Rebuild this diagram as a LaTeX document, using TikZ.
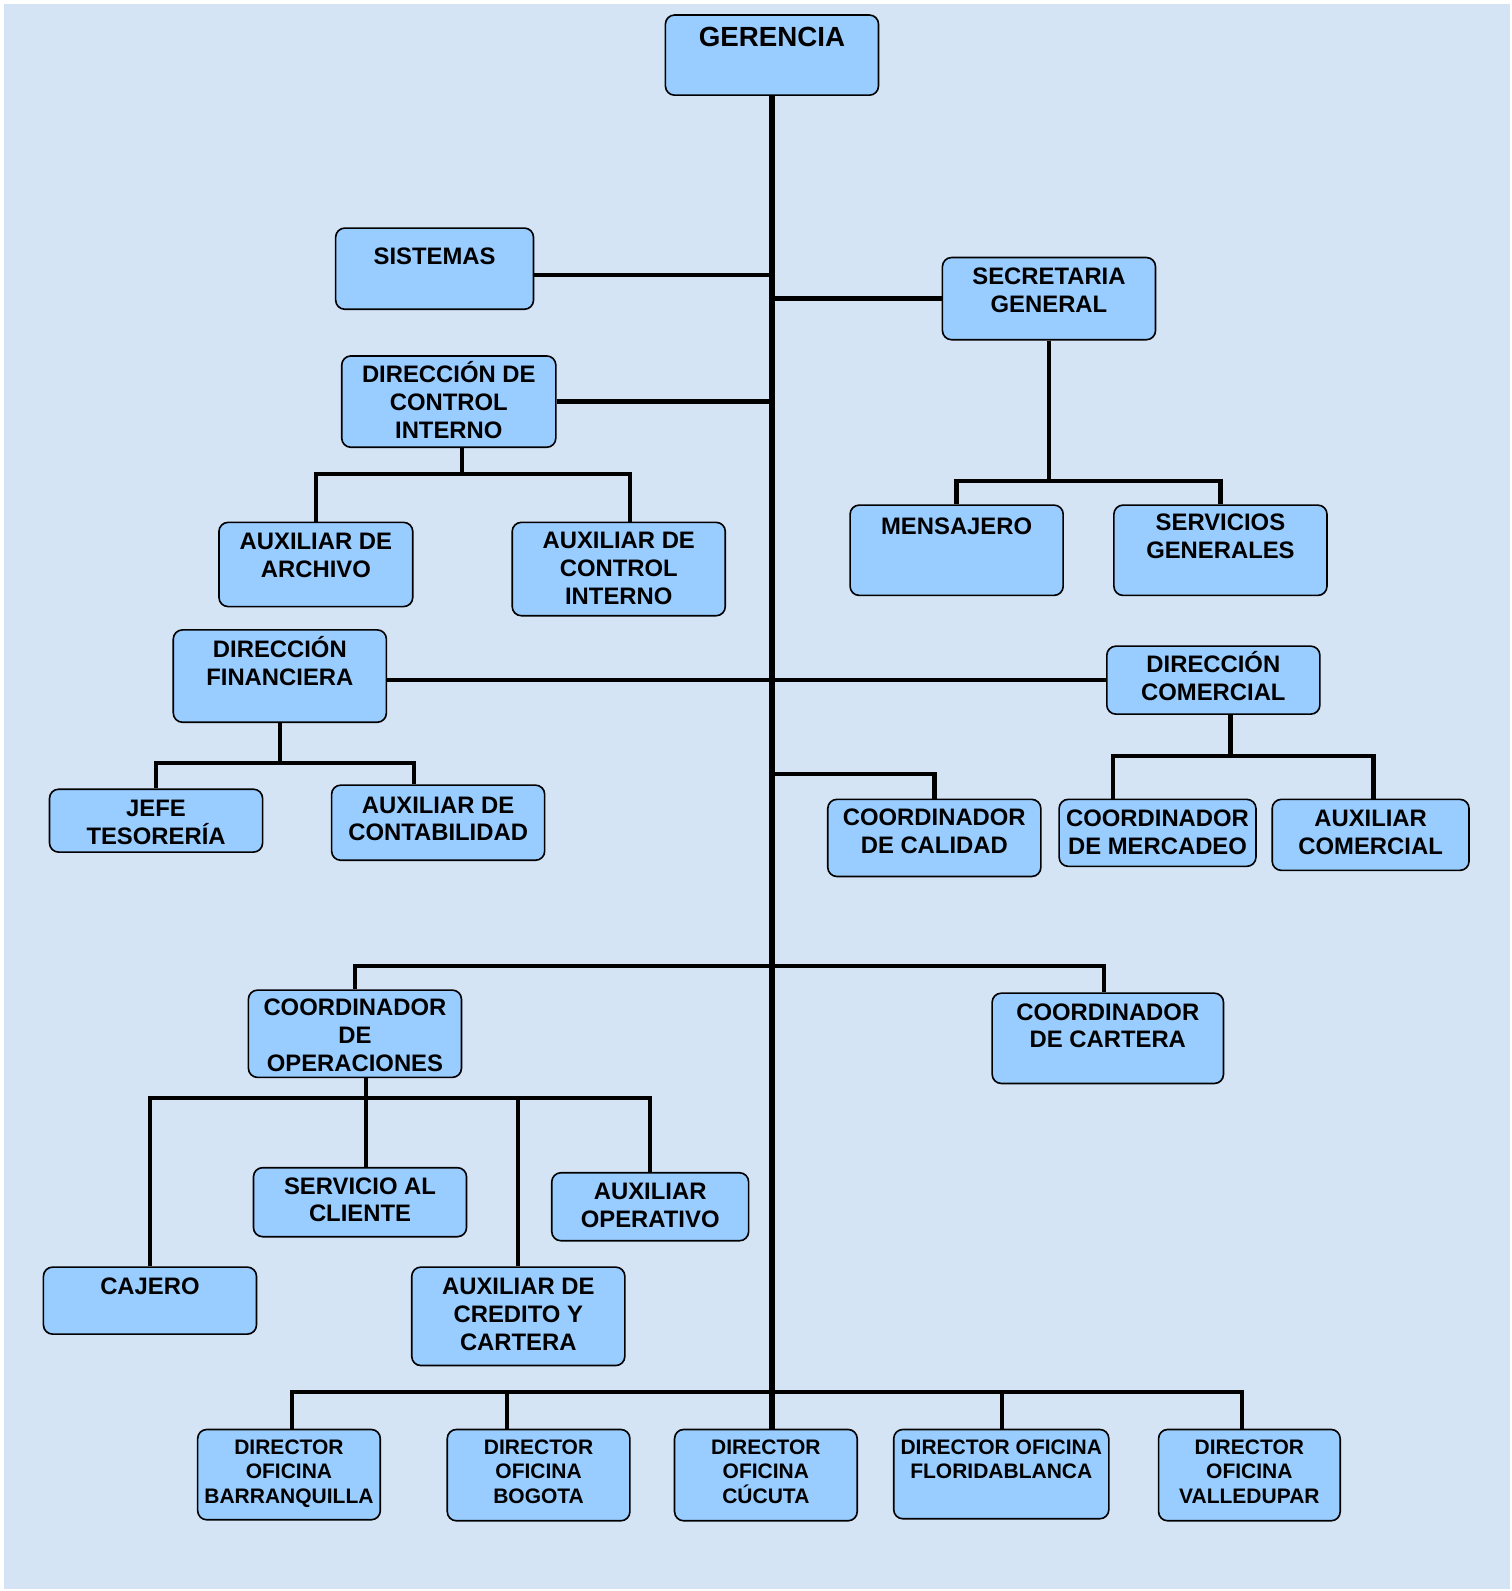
\documentclass[tikz,border=0pt]{standalone}
\usepackage{fontspec}
\setmainfont{Liberation Sans}
\definecolor{boxblue}{RGB}{153,204,255}
\definecolor{bgblue}{RGB}{212,228,245}
\newcommand\orgbox[7]{%
  \node[obox, anchor=north west] (#1) at (#2,#3) {\parbox[t][#5pt][t]{#4pt}{\centering\rule{0pt}{#6pt}#7}};%
}
\begin{document}
\begin{tikzpicture}[x=1pt,y=-1pt,
  obox/.style={draw=black, fill=boxblue, rounded corners=9pt, line width=1.6pt, inner sep=0pt,
    font=\bfseries\fontsize{23.5}{27.5}\selectfont},
  br/.style={line width=4.3pt, draw=black},
  trunk/.style={line width=6pt, draw=black}]
\useasboundingbox (0,0) rectangle (1490,1568);
\fill[white] (0,0) rectangle (1490,1568);
\fill[bgblue] (4,4) rectangle (1488,1566);

\orgbox{ger}{655}{14}{210}{79}{31}{\fontsize{27.3}{31}\selectfont GERENCIA}
\orgbox{sis}{330}{224}{195}{80}{36}{SISTEMAS}
\orgbox{sec}{928}{253}{210}{81}{27}{SECRETARIA\\GENERAL}
\orgbox{dci}{336}{350}{211}{90}{26}{DIRECCIÓN DE\\CONTROL\\INTERNO}
\orgbox{men}{837}{497}{210}{89}{28.5}{MENSAJERO}
\orgbox{ser}{1097}{497}{210}{89}{25.5}{SERVICIOS\\GENERALES}
\orgbox{aar}{215}{514}{191}{83}{26.5}{AUXILIAR DE\\ARCHIVO}
\orgbox{aci}{504}{514}{210}{92}{26}{AUXILIAR DE\\CONTROL\\INTERNO}
\orgbox{fin}{170}{620}{210}{91}{27.5}{DIRECCIÓN\\FINANCIERA}
\orgbox{com}{1090}{636}{210}{67}{26.4}{DIRECCIÓN\\COMERCIAL}
\orgbox{jef}{48}{777}{210}{62}{26.5}{JEFE\\TESORERÍA}
\orgbox{con}{326}{773}{210}{74}{27.5}{AUXILIAR DE\\CONTABILIDAD}
\orgbox{cal}{815}{787}{210}{76}{25.5}{COORDINADOR\\DE CALIDAD}
\orgbox{mer}{1043}{787}{194}{66}{26.5}{COORDINADOR\\DE MERCADEO}
\orgbox{acm}{1253}{787}{194}{70}{26.5}{AUXILIAR\\COMERCIAL}
\orgbox{ope}{244}{975}{210}{86}{25.5}{COORDINADOR\\DE\\OPERACIONES}
\orgbox{car}{977}{978}{228}{89}{26.5}{COORDINADOR\\DE CARTERA}
\orgbox{svc}{249}{1150}{210}{68}{26}{SERVICIO AL\\CLIENTE}
\orgbox{aop}{543}{1155}{194}{67}{26.4}{AUXILIAR\\OPERATIVO}
\orgbox{caj}{42}{1248}{210}{66}{27}{CAJERO}
\orgbox{cre}{405}{1248}{210}{97}{27}{AUXILIAR DE\\CREDITO Y\\CARTERA}
\orgbox{bar}{194}{1408}{180}{89}{25}{\fontsize{20.7}{23.8}\selectfont DIRECTOR\\OFICINA\\BARRANQUILLA}
\orgbox{bog}{440}{1408}{180}{90}{25}{\fontsize{20.7}{23.8}\selectfont DIRECTOR\\OFICINA\\BOGOTA}
\orgbox{cuc}{664}{1408}{180}{90}{25}{\fontsize{20.7}{23.8}\selectfont DIRECTOR\\OFICINA\\CÚCUTA}
\orgbox{flo}{880}{1408}{212}{88}{25}{\fontsize{20.7}{23.8}\selectfont DIRECTOR OFICINA\\FLORIDABLANCA}
\orgbox{val}{1141}{1408}{179}{90}{25}{\fontsize{20.7}{23.8}\selectfont DIRECTOR\\OFICINA\\VALLEDUPAR}

% branches
\draw[br] ([yshift=-6pt]sis.east) -- ([yshift=-6pt]sis.east -| ger.south);
\draw[br] (sec.west) -- (sec.west -| ger.south);
\draw[br] (sec.south) -- (sec.south |- 0,474);
\draw[br] (men.north) |- (ser.north |- 0,474) -- (ser.north);
\draw[br] (dci.east) -- (dci.east -| ger.south);
\draw[br] ([xshift=13pt]dci.south) -- ([xshift=13pt]dci.south |- 0,467);
\draw[br] (aar.north) |- ([xshift=11pt]aci.north |- 0,467) -- ([xshift=11pt]aci.north);
\draw[br] (fin.east |- com.west) -- (com.west);
\draw[br] (fin.south) -- (fin.south |- 0,752);
\draw[br] (jef.north) |- ([xshift=-24pt]con.north |- 0,752) -- ([xshift=-24pt]con.north);
\draw[br] (ger.south |- 0,763) -| (cal.north);
\draw[br] ([xshift=17pt]com.south) -- ([xshift=17pt]com.south |- 0,745);
\draw[br] ([xshift=-44pt]mer.north) |- ([xshift=3pt]acm.north |- 0,745) -- ([xshift=3pt]acm.north);
\draw[br] (ope.north) |- ([xshift=-4pt]car.north |- 0,952) -- ([xshift=-4pt]car.north);
\draw[br] ([xshift=11pt]ope.south) -- ([xshift=6pt]svc.north);
\draw[br] (caj.north) |- (aop.north |- 0,1082) -- (aop.north);
\draw[br] (cre.north) -- (cre.north |- 0,1082);
\draw[br] ([xshift=3pt]bar.north) |- ([xshift=-7pt]val.north |- 0,1372) -- ([xshift=-7pt]val.north);
\draw[br] ([xshift=-31pt]bog.north) -- ([xshift=-31pt]bog.north |- 0,1372);
\draw[br] ([xshift=1pt]flo.north) -- ([xshift=1pt]flo.north |- 0,1372);
% trunk
\draw[trunk] (ger.south) -- (ger.south |- cuc.north);
\end{tikzpicture}
\end{document}
